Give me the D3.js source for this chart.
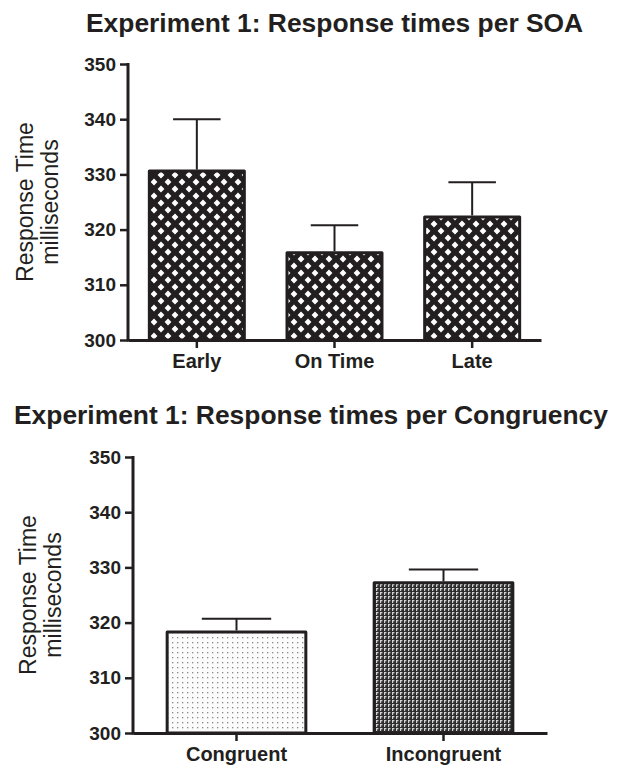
<!DOCTYPE html>
<html>
<head>
<meta charset="utf-8">
<script src="https://cdn.jsdelivr.net/npm/d3@7"></script>
<style>
    body { margin: 0; background: #fff; }
    svg { display: block; font-family: "Liberation Sans", Arial, sans-serif; }
    .axis path, .axis line { stroke: #231f20; }
    .axis text { fill: #231f20; font-weight: 700; }
</style>
</head>
<body>
<div id="chart"></div>
<script>
//Datos - gráfico 1 (SOA)
const soaCats = ['Early', 'On Time', 'Late'];
const soaMeans = [330.6, 315.8, 322.3];
const soaErrs = [9.4, 5.0, 6.3];

//Datos - gráfico 2 (Congruencia)
const congCats = ['Congruent', 'Incongruent'];
const congMeans = [318.3, 327.2];
const congErrs = [2.4, 2.4];

//Ejes
const yTicks = [300, 310, 320, 330, 340, 350];
const yDomain = [300, 350];

const INK = '#231f20';

let svg = d3.select('#chart')
    .append('svg')
    .attr('width', 618)
    .attr('height', 769);

//Patrones de relleno
let defs = svg.append('defs');

let hatch = defs.append('pattern')
    .attr('id', 'crosshatch')
    .attr('patternUnits', 'userSpaceOnUse')
    .attr('width', 14).attr('height', 14);
hatch.append('rect').attr('width', 14).attr('height', 14).attr('fill', INK);
hatch.append('path')
    .attr('d', 'M0,-3.4L3.4,0L0,3.4L-3.4,0Z M14,-3.4L17.4,0L14,3.4L10.6,0Z M0,10.6L3.4,14L0,17.4L-3.4,14Z M14,10.6L17.4,14L14,17.4L10.6,14Z M7,3.6L10.4,7L7,10.4L3.6,7Z')
    .attr('fill', '#fff');

let dots = defs.append('pattern')
    .attr('id', 'dots')
    .attr('patternUnits', 'userSpaceOnUse')
    .attr('width', 5).attr('height', 5);
dots.append('rect').attr('width', 5).attr('height', 5).attr('fill', '#fbfbfb');
dots.append('rect').attr('x', 2).attr('y', 2).attr('width', 1.3).attr('height', 1.3).attr('fill', '#888');

let weave = defs.append('pattern')
    .attr('id', 'weave')
    .attr('patternUnits', 'userSpaceOnUse')
    .attr('width', 4).attr('height', 4);
weave.append('rect').attr('width', 4).attr('height', 4).attr('fill', '#2e2e2e');
weave.append('path').attr('d', 'M0,0h2.4v1.2h-1.2v1.8h-1.2Z').attr('fill', '#d4d4d4');

function drawChart(cfg) {
    let g = svg.append('g');

    let x = d3.scaleBand()
        .domain(cfg.cats)
        .range([cfg.left, cfg.right])
        .paddingInner(cfg.padding)
        .paddingOuter(cfg.padding / 2);

    let y = d3.scaleLinear()
        .domain(yDomain)
        .range([cfg.bottom, cfg.top]);

    //Título
    g.append('text')
        .attr('x', cfg.titleX)
        .attr('y', cfg.titleY)
        .attr('font-size', 26.4)
        .attr('font-weight', 700)
        .attr('fill', INK)
        .text(cfg.title);

    //Etiqueta eje Y
    let mid = (cfg.top + cfg.bottom) / 2;
    [['Response Time', cfg.labX1], ['milliseconds', cfg.labX2]].forEach(function(l) {
        g.append('text')
            .attr('transform', 'translate(' + l[1] + ',' + mid + ') rotate(-90)')
            .attr('text-anchor', 'middle')
            .attr('font-size', 23)
            .attr('fill', INK)
            .text(l[0]);
    });

    //Barras
    g.selectAll('.bar')
        .data(cfg.cats)
        .enter()
        .append('rect')
        .attr('class', 'bar')
        .attr('x', function(d) { return x(d); })
        .attr('y', function(d, i) { return y(cfg.means[i]); })
        .attr('width', x.bandwidth())
        .attr('height', function(d, i) { return y(yDomain[0]) - y(cfg.means[i]); })
        .attr('fill', function(d, i) { return 'url(#' + cfg.fills[i] + ')'; })
        .attr('stroke', INK)
        .attr('stroke-width', 3)
        .attr('stroke-linejoin', 'round');

    //Barras de error (solo hacia arriba)
    let eg = g.selectAll('.err')
        .data(cfg.cats)
        .enter()
        .append('g')
        .attr('class', 'err')
        .attr('stroke', INK)
        .attr('stroke-width', 2);
    eg.append('line')
        .attr('x1', function(d) { return x(d) + x.bandwidth() / 2; })
        .attr('x2', function(d) { return x(d) + x.bandwidth() / 2; })
        .attr('y1', function(d, i) { return y(cfg.means[i]) - 1.5; })
        .attr('y2', function(d, i) { return y(cfg.means[i] + cfg.errs[i]); });
    eg.append('line')
        .attr('x1', function(d) { return x(d) + x.bandwidth() / 4; })
        .attr('x2', function(d) { return x(d) + x.bandwidth() * 3 / 4; })
        .attr('y1', function(d, i) { return y(cfg.means[i] + cfg.errs[i]); })
        .attr('y2', function(d, i) { return y(cfg.means[i] + cfg.errs[i]); });

    //Eje Y
    g.append('g')
        .attr('class', 'axis')
        .attr('transform', 'translate(' + cfg.left + ',0)')
        .call(d3.axisLeft(y).tickValues(yTicks).tickSize(8).tickSizeOuter(0).tickPadding(4))
        .call(function(a) {
            a.select('.domain').attr('stroke-width', 3).attr('d', 'M0,' + (cfg.top - 1) + 'V' + (cfg.bottom + 1.5));
            a.selectAll('.tick line').attr('stroke-width', 2.5);
            a.selectAll('.tick text').attr('font-size', 19).attr('font-family', 'Liberation Sans, Arial, sans-serif');
        });

    //Eje X
    g.append('g')
        .attr('class', 'axis')
        .attr('transform', 'translate(0,' + cfg.bottom + ')')
        .call(d3.axisBottom(x).tickSize(8).tickSizeOuter(0).tickPadding(6))
        .call(function(a) {
            a.select('.domain').attr('stroke-width', 3);
            a.selectAll('.tick line').attr('stroke-width', 2.5);
            a.selectAll('.tick text').attr('font-size', 20).attr('font-family', 'Liberation Sans, Arial, sans-serif');
        });
}

drawChart({
    title: 'Experiment 1: Response times per SOA',
    titleX: 86, titleY: 32,
    cats: soaCats, means: soaMeans, errs: soaErrs,
    fills: ['crosshatch', 'crosshatch', 'crosshatch'],
    left: 128, right: 541, top: 64, bottom: 340, padding: 0.31,
    labX1: 33, labX2: 58
});

drawChart({
    title: 'Experiment 1: Response times per Congruency',
    titleX: 14, titleY: 424,
    cats: congCats, means: congMeans, errs: congErrs,
    fills: ['dots', 'weave'],
    left: 133, right: 547, top: 457, bottom: 733, padding: 0.33,
    labX1: 36, labX2: 61
});
</script>
</body>
</html>
